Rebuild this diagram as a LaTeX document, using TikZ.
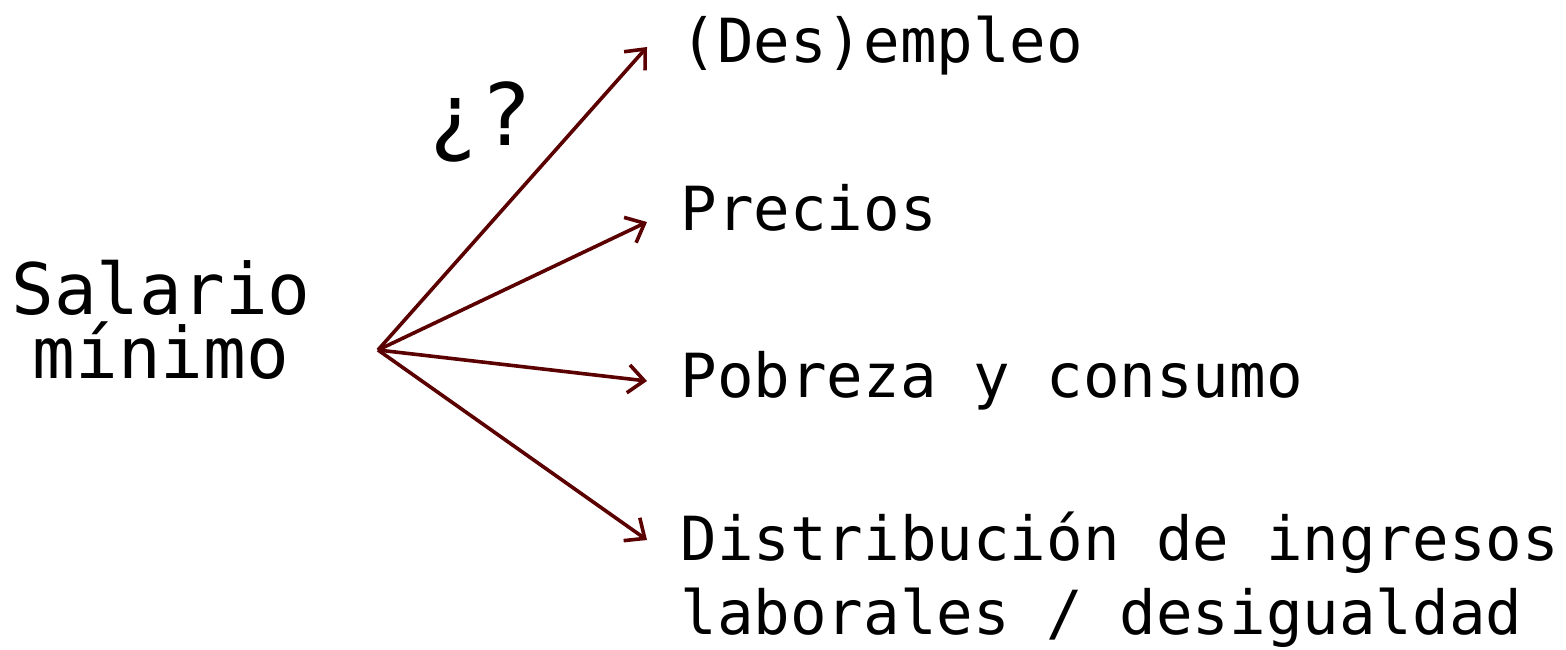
\documentclass[tikz,border=0pt]{standalone}
\usepackage{fontspec}
\setmonofont{DejaVu Sans Mono}
\usetikzlibrary{arrows.meta}
\definecolor{arrowred}{RGB}{90,0,0}
\tikzset{
  lbl/.style={anchor=base west, inner sep=0pt, font=\ttfamily\fontsize{30.4pt}{37pt}\selectfont, align=left},
  src/.style={inner sep=0pt, font=\ttfamily\fontsize{35.5pt}{32pt}\selectfont, align=center},
  conn/.style={draw=arrowred, line width=1.8pt, -{Straight Barb[length=8pt,width=14pt,line width=1.8pt]}}
}
\begin{document}
\begin{tikzpicture}[x=0.5pt,y=-0.5pt]
\useasboundingbox (0,0) rectangle (1566,649);
\node[src, anchor=base] (sal) at (161,378) {Salario\\mínimo};
\node[inner sep=0pt, anchor=base, font=\ttfamily\fontsize{43pt}{43pt}\selectfont] (q) at (480,145) {¿?};
\node[lbl] (l1) at (680,62) {(Des)empleo};
\node[lbl] (l2) at (680,230) {Precios};
\node[lbl] (l3) at (680,397) {Pobreza y consumo};
\node[lbl] (l4) at (680,634) {Distribución de ingresos\\laborales / desigualdad};
\coordinate (o) at (378,350);
\coordinate (t1) at (647,47);
\coordinate (t2) at (647,222);
\coordinate (t3) at (647,381);
\coordinate (t4) at (647,540);
\draw[conn] (o) -- (t1);
\draw[conn] (o) -- (t2);
\draw[conn] (o) -- (t3);
\draw[conn] (o) -- (t4);
\end{tikzpicture}
\end{document}
